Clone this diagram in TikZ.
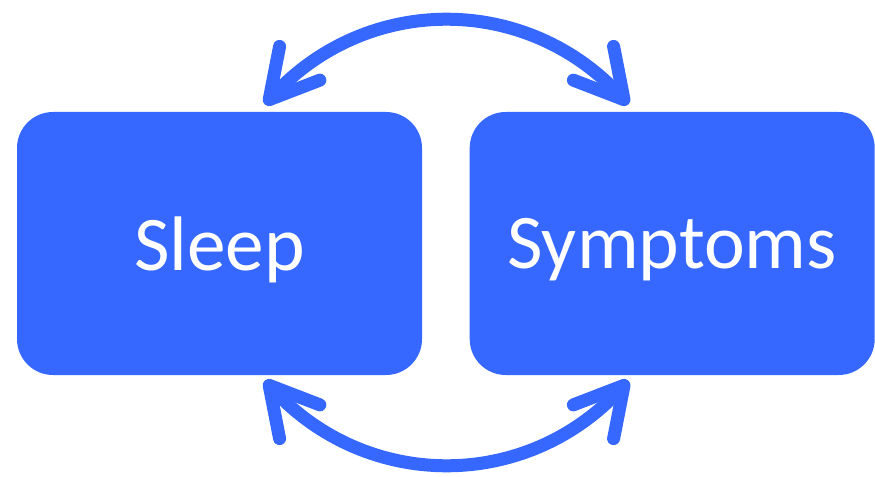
\documentclass[tikz,border=0pt]{standalone}
\usepackage{fontspec}
\setmainfont{Carlito}
\usetikzlibrary{arrows.meta,bending,positioning}
\definecolor{boxblue}{RGB}{54,104,255}
\newcommand{\lowtext}[1]{\raisebox{-1.2mm}[\height][\depth]{#1}}

\begin{document}
\begin{tikzpicture}[>={Straight Barb[round,length=9.5mm,width=10.5mm]},
 topicbox/.style={fill=boxblue,rounded corners=7.2mm,minimum width=8.1cm,
  minimum height=5.26cm,text=white,font=\fontsize{44}{50}\selectfont},
 link/.style={<->,draw=boxblue,line width=2.6mm}]
    % fix the page to the reference size
    \useasboundingbox (0,0) rectangle (17.5,9.52);
    % the two boxes
    \node[topicbox] (sleep) at (4.39,4.65) {\lowtext{Sleep}};
    \node[topicbox,right=0.94cm of sleep] (symptoms) {\lowtext{Symptoms}};
    % arrow ends just above and below the boxes
    \coordinate (sleeptop) at ([shift={(0.91,0.14)}]sleep.north);
    \coordinate (symptop) at ([shift={(-0.88,0.14)}]symptoms.north);
    \coordinate (sleepbot) at ([shift={(0.91,-0.10)}]sleep.south);
    \coordinate (sympbot) at ([shift={(-0.88,-0.10)}]symptoms.south);
    % curved double arrows
    \draw[link] (sleeptop) to[bend left=50,looseness=1.05] (symptop);
    \draw[link] (sleepbot) to[bend right=50,looseness=1.05] (sympbot);
\end{tikzpicture}
\end{document}
